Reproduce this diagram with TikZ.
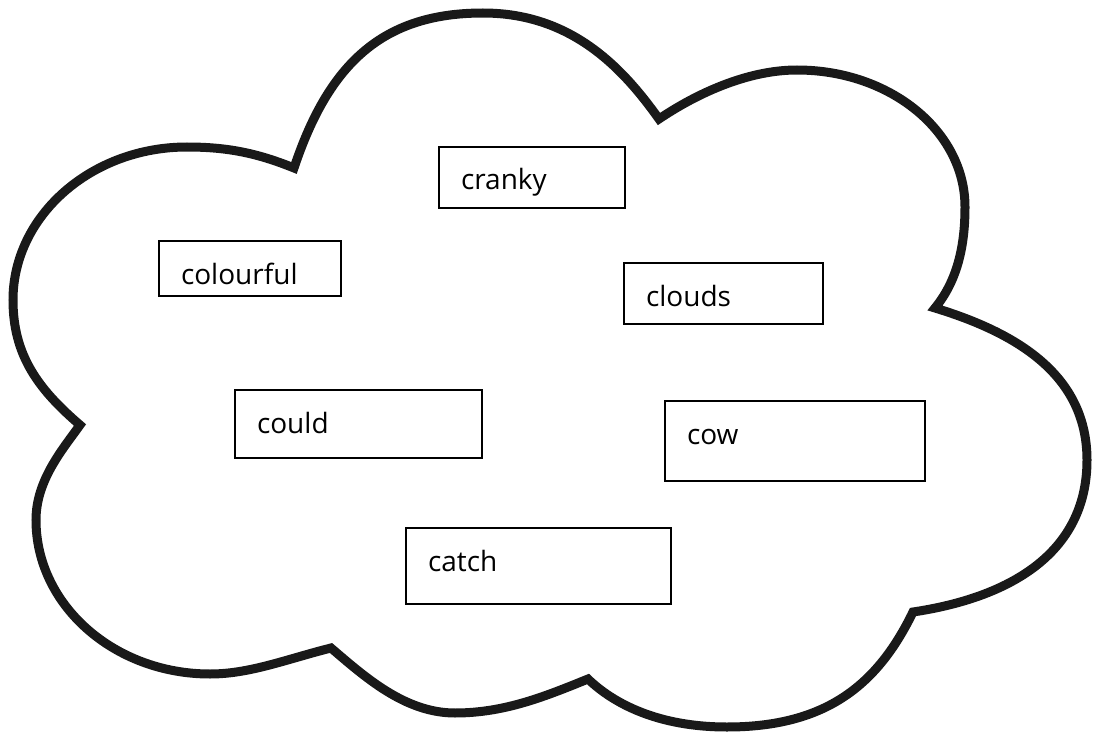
\documentclass[tikz,border=0pt]{standalone}
\usepackage{fontspec}
\setmainfont{Open Sans}
\usepackage{tikz}
\usepackage{xcolor}

\tikzset{
  cloudline/.style={line width=4.5pt, line join=miter, color=black!90},
  wordbox/.style={draw, line width=1pt, anchor=north west, align=left,
    inner xsep=11pt, inner ysep=0pt, text height=21.5pt,
    font=\fontsize{14pt}{17pt}\selectfont}
}

\begin{document}
\begin{tikzpicture}[x=0.5pt,y=-0.5pt]
        \useasboundingbox (0,0) rectangle (1093,733);
        % the cloud, one bump after another
        \draw[cloudline] (80,425)
        .. controls (38,389) and (13,355) .. (13,300)
        .. controls (13,216) and (91,147) .. (187,147)
        .. controls (227,147) and (257,153) .. (294,168)
        .. controls (329,63) and (383,13) .. (483,13)
        .. controls (573,13) and (624,70) .. (659,119)
        .. controls (696,94) and (747,70) .. (797,70)
        .. controls (890,70) and (965,131) .. (965,207)
        .. controls (965,247) and (957,281) .. (935,308)
        .. controls (1017,333) and (1087,375) .. (1087,460)
        .. controls (1087,555) and (1007,598) .. (913,612)
        .. controls (878,684) and (827,727) .. (727,727)
        .. controls (657,727) and (613,703) .. (588,679)
        .. controls (546,696) and (505,713) .. (455,713)
        .. controls (405,713) and (365,677) .. (331,648)
        .. controls (287,659) and (250,674) .. (210,674)
        .. controls (114,674) and (36,605) .. (36,520)
        .. controls (36,480) and (63,449) .. (80,425) -- cycle;
        % the words
        \foreach \word/\x/\y/\w/\d in {cranky/438/146/71/9, colourful/158/240/69/6,
          clouds/623/262/77.5/9, could/234/389/101.5/12.5, cow/664/400/108/18.5,
          catch/405/527/110.5/16.5}
        \node[wordbox, text width=\w pt, text depth=\d pt] (\word) at (\x,\y) {\word};
        \end{tikzpicture}
\end{document}
